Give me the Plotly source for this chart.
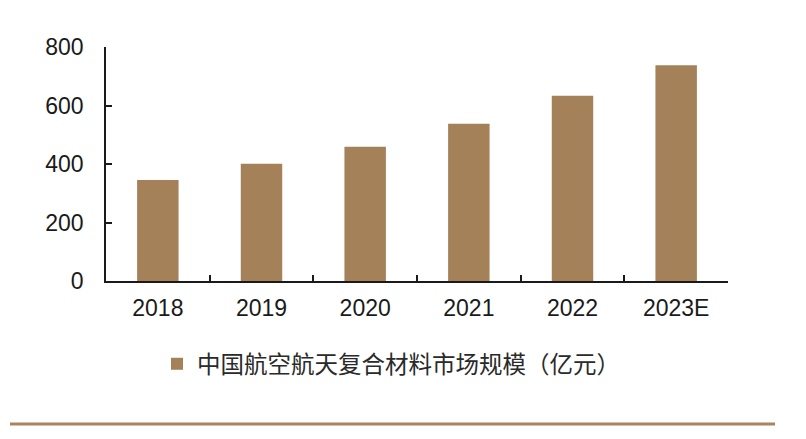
import plotly.graph_objects as go

categories = ["2018", "2019", "2020", "2021", "2022", "2023E"]
values = [345, 401, 459, 538, 633, 738]
series_name = "中国航空航天复合材料市场规模（亿元）"
y_ticks = [0, 200, 400, 600, 800]

BAR_COLOR = "#a5815a"
AXIS_COLOR = "#1a1a1a"
NUM_FONT = "Liberation Sans, Arial, sans-serif"
CJK_FONT = "Noto Sans CJK SC, sans-serif"

OFF = 8  # page body margin
W, H = 806 - OFF, 439 - OFF
# target plot area in window pixels: x 106..728, y 47..281
L, T = 106 - OFF, 47 - OFF
R = 806 - 728
B = 439 - 281
pw, ph = 728 - 106, 281 - 47

def px_x(xw):
    return (xw - 106) / pw

def px_y(yw):
    return (281 - yw) / ph

fig = go.Figure()
fig.add_trace(go.Bar(
    x=categories, y=values, name=series_name,
    marker=dict(color=BAR_COLOR, line=dict(width=0)),
    width=0.4, showlegend=True,
))

fig.update_layout(
    width=W, height=H,
    margin=dict(l=L, r=R, t=T, b=B, pad=0),
    paper_bgcolor="white", plot_bgcolor="white",
    showlegend=True,
    legend=dict(
        orientation="h", x=px_x(157), xanchor="left",
        y=px_y(364), yanchor="middle",
        font=dict(family=CJK_FONT, size=23.5, color="#2a2a2a"),
        itemwidth=30, borderwidth=0, bgcolor="rgba(0,0,0,0)",
    ),
    xaxis=dict(
        type="category", showgrid=False, showline=True, linecolor=AXIS_COLOR,
        linewidth=1.5, ticks="inside", ticklen=6, tickwidth=1.5,
        tickcolor=AXIS_COLOR, tickson="boundaries",
        tickfont=dict(family=NUM_FONT, size=23, color=AXIS_COLOR),
        ticklabelstandoff=6, zeroline=False,
    ),
    yaxis=dict(
        range=[0, 800], tickvals=y_ticks, showgrid=False, showline=True,
        linecolor=AXIS_COLOR, linewidth=1.5, ticks="inside", ticklen=6,
        tickwidth=1.5, tickcolor=AXIS_COLOR, zeroline=False,
        tickfont=dict(family=NUM_FONT, size=23, color=AXIS_COLOR),
        ticklabelstandoff=16,
    ),
    shapes=[dict(
        type="line", xref="paper", yref="paper",
        x0=px_x(10), x1=px_x(775),
        y0=px_y(424), y1=px_y(424),
        line=dict(color="#a9845f", width=3),
    )],
)

fig.write_html("out.html")
